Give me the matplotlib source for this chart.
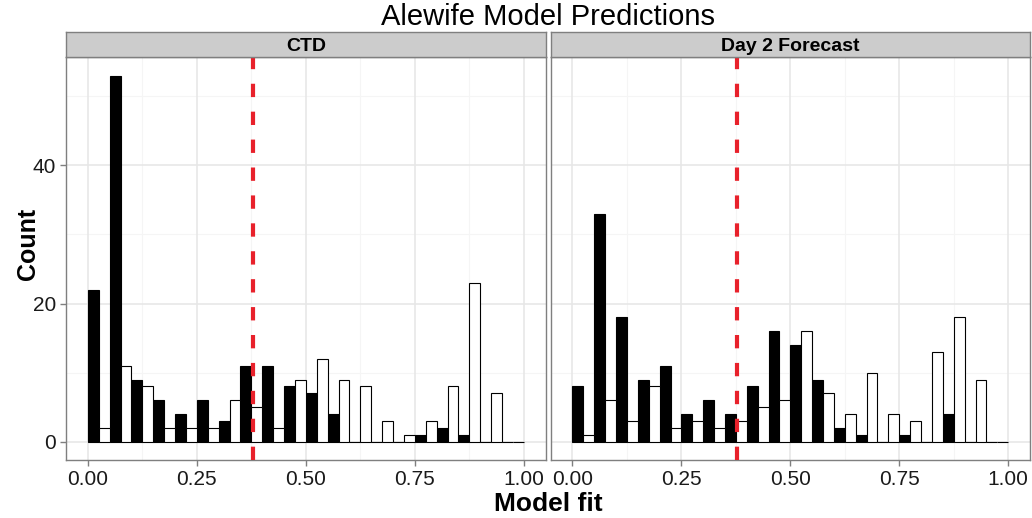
import numpy as np
import matplotlib.pyplot as plt

plt.rcParams['font.family'] = ['Liberation Sans', 'DejaVu Sans']

# histogram bins of width 0.05 from 0 to 1, two groups dodged in each bin
bin_left = np.arange(0, 1.0, 0.05)
panels = ['CTD', 'Day 2 Forecast']
ctd_black = [22, 53, 9, 6, 4, 6, 3, 11, 11, 8, 7, 4, 0, 0, 0, 1, 2, 1, 0, 0]
ctd_white = [2, 11, 8, 2, 2, 2, 6, 5, 2, 9, 12, 9, 8, 3, 1, 3, 8, 23, 7, 0]
day2_black = [8, 33, 18, 9, 11, 4, 6, 4, 8, 16, 14, 9, 2, 1, 0, 1, 0, 4, 0, 0]
day2_white = [1, 6, 3, 8, 2, 3, 2, 3, 5, 6, 16, 7, 4, 10, 4, 3, 13, 18, 9, 0]
cutoff = 0.378

W, H = 1032, 518
fig = plt.figure(figsize=(W/100, H/100), dpi=100)

def fx(px):
    return px / W

def fy(py):
    return 1 - py / H

panel_top, panel_bot = 57.3, 460.0
strip_top = 32.3
lefts = [66.0, 550.7]
rights = [545.7, 1030.0]
data = [(ctd_black, ctd_white), (day2_black, day2_white)]

for i in range(2):
    ax = fig.add_axes([fx(lefts[i]), fy(panel_bot), fx(rights[i] - lefts[i]),
                       (panel_bot - panel_top) / H])
    blk, wht = data[i]
    for x in [0.125, 0.375, 0.625, 0.875]:
        ax.axvline(x, color='#F5F5F5', lw=0.8, zorder=0)
    for y in [10, 30, 50]:
        ax.axhline(y, color='#F5F5F5', lw=0.8, zorder=0)
    for x in [0, 0.25, 0.5, 0.75, 1.0]:
        ax.axvline(x, color='#E6E6E6', lw=1.1, zorder=0)
    for y in [0, 20, 40]:
        ax.axhline(y, color='#E6E6E6', lw=1.1, zorder=0)
    ax.bar(bin_left, blk, width=0.025, align='edge', color='black',
           edgecolor='black', linewidth=0.8, zorder=2)
    ax.bar(bin_left + 0.025, wht, width=0.025, align='edge', color='white',
           edgecolor='black', linewidth=0.8, zorder=2)
    ax.axvline(cutoff, color='#E8212B', lw=3, dashes=(3.2, 3.5), zorder=3)
    ax.set_xlim(-0.05, 1.05)
    ax.set_ylim(-2.65, 55.65)
    ax.set_xticks([0, 0.25, 0.5, 0.75, 1.0])
    ax.set_xticklabels(['0.00', '0.25', '0.50', '0.75', '1.00'])
    ax.set_yticks([0, 20, 40])
    ax.tick_params(axis='both', labelsize=15, color='#7F7F7F', length=4,
                   width=1, labelcolor='#1a1a1a', pad=3)
    if i == 1:
        ax.tick_params(axis='y', left=False, labelleft=False)
    for s in ax.spines.values():
        s.set_color('#7F7F7F')
        s.set_linewidth(1)
    # strip
    sax = fig.add_axes([fx(lefts[i]), fy(panel_top), fx(rights[i] - lefts[i]),
                        (panel_top - strip_top) / H])
    sax.set_xticks([])
    sax.set_yticks([])
    sax.set_facecolor('#CCCCCC')
    for s in sax.spines.values():
        s.set_color('#7F7F7F')
        s.set_linewidth(1)
    sax.text(0.5, 0.45, panels[i], ha='center', va='center', fontsize=14,
             fontweight='bold', color='black', transform=sax.transAxes)

fig.text(fx(548), fy(17), 'Alewife Model Predictions', ha='center', va='center',
         fontsize=21)
fig.text(fx(548), fy(504), 'Model fit', ha='center', va='center',
         fontsize=19, fontweight='bold')
fig.text(fx(28), fy(244), 'Count', ha='center', va='center', rotation=90,
         fontsize=18, fontweight='bold')

fig.savefig('out.png', dpi=100)
